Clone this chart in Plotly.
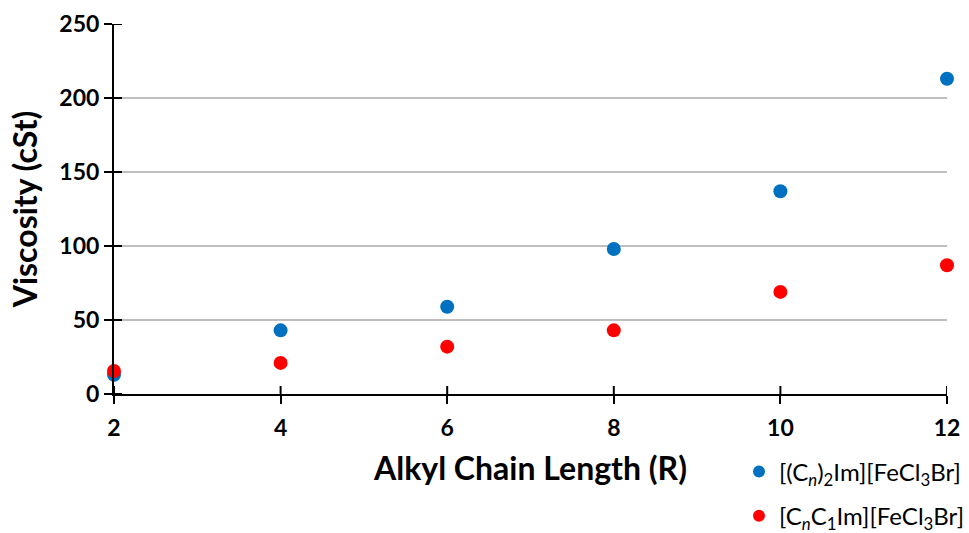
import plotly.graph_objects as go

# Alkyl chain length (number of carbons)
chain_length = [2, 4, 6, 8, 10, 12]
# Viscosity in cSt for each ionic liquid series
visc_dialkyl = [13, 43, 59, 98, 137, 213]
visc_methyl = [15.5, 21, 32, 43, 69, 87]
y_ticks = [0, 50, 100, 150, 200, 250]

name_dialkyl = "[(C<sub><i>n</i></sub>)<sub>2</sub>Im][FeCl<sub>3</sub>Br]"
name_methyl = "[C<sub><i>n</i></sub>C<sub>1</sub>Im][FeCl<sub>3</sub>Br]"

font_family = "Lato, Open Sans, sans-serif"

fig = go.Figure()
fig.add_trace(go.Scatter(
    x=chain_length, y=visc_dialkyl, mode="markers", name=name_dialkyl,
    legendgroup="a",
    marker=dict(color="#0070C0", size=14, line=dict(width=0)),
    cliponaxis=False,
))
fig.add_trace(go.Scatter(
    x=chain_length, y=visc_methyl, mode="markers", name=name_methyl,
    legendgroup="b",
    marker=dict(color="#FF0000", size=14, line=dict(width=0)),
    cliponaxis=False,
))

axis_line = dict(showline=True, linecolor="black", linewidth=2,
                 tickwidth=2, tickcolor="black", ticklen=8, automargin=False)
tick_font = dict(size=23, family=font_family, color="black", weight="bold")

# Inner halves of the crossing tick marks, anchored at each tick value
tick_shapes = []
for xv in chain_length:
    tick_shapes.append(dict(
        type="line", xref="x", yref="y", ysizemode="pixel", yanchor=y_ticks[0],
        x0=xv, x1=xv, y0=0, y1=8, line=dict(color="black", width=2), layer="above",
    ))
for yv in y_ticks:
    tick_shapes.append(dict(
        type="line", xref="x", yref="y", xsizemode="pixel", xanchor=chain_length[0],
        x0=0, x1=8, y0=yv, y1=yv, line=dict(color="black", width=2), layer="above",
    ))

fig.update_layout(
    width=969, height=533,
    margin=dict(l=114, r=22, t=24, b=139, autoexpand=False),
    plot_bgcolor="white", paper_bgcolor="white",
    font=dict(family=font_family, color="black"),
    showlegend=True,
    legend=dict(
        xref="container", x=1.0, xanchor="right",
        y=-0.15, yanchor="top",
        font=dict(size=24, family=font_family, color="black"),
        bgcolor="rgba(0,0,0,0)", itemsizing="constant",
        tracegroupgap=10,
    ),
    xaxis=dict(
        range=[2, 12], tickvals=chain_length,
        showgrid=False, zeroline=False,
        ticks="outside", tickfont=tick_font, ticklabelstandoff=4,
        title=dict(text="<b>Alkyl Chain Length (R)</b>", font=dict(size=32), standoff=18),
        **axis_line,
    ),
    yaxis=dict(
        range=[0, 250], tickvals=y_ticks,
        showgrid=True, gridcolor="#BFBFBF", gridwidth=1.5,
        zeroline=False,
        ticks="outside", tickfont=tick_font,
        title=dict(text="<b>Viscosity (cSt)</b>", font=dict(size=32), standoff=12),
        **axis_line,
    ),
    shapes=tick_shapes,
)

fig.write_html("out.html")
